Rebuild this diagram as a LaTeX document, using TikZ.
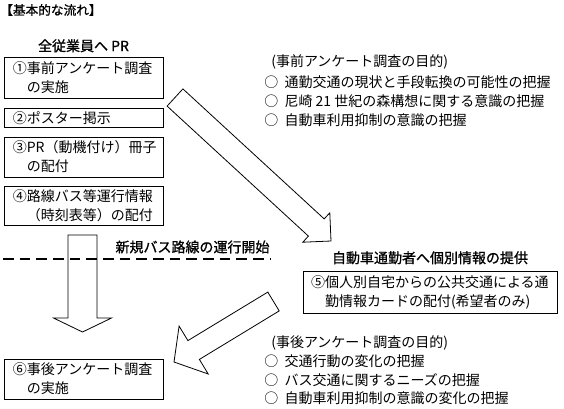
\documentclass[tikz,border=0pt]{standalone}
\usepackage{fontspec}
\setmainfont{Noto Sans CJK JP}
\newfontfamily\hdfont[FakeBold=1]{Noto Sans CJK JP}
\usetikzlibrary{positioning}

\begin{document}
\begin{tikzpicture}[x=0.75pt,y=-0.75pt,
    stepbox/.style={draw, line width=0.7pt, align=left, text width=106pt,
      inner xsep=6.6pt, inner ysep=0pt, minimum width=119.25pt,
      font=\fontsize{10.5}{14.25}\selectfont},
    bigarrow/.style={draw, line width=0.6pt, fill=white, line join=miter},
    hd/.style={inner sep=0pt, font=\hdfont\fontsize{10.5}{13}\selectfont},
    txt/.style={inner sep=0pt, anchor=west, font=\fontsize{10.5}{13}\selectfont}]
    \useasboundingbox (0,0) rectangle (564,408);

    \node[hd, anchor=west, font=\hdfont\fontsize{9.5}{12}\selectfont] (title) at (0,10) {【基本的な流れ】};

    \node[stepbox, minimum height=30.75pt] (b1) at (83.5,77.5) {①事前アンケート調査\\\hspace*{1em}の実施};
    \node[stepbox, minimum height=14.25pt] (b2) at (83.5,118) {②ポスター掲示};
    \node[stepbox, minimum height=30pt] (b3) at (83.5,157) {③PR（動機付け）冊子\\\hspace*{1em}の配付};
    \node[stepbox, minimum height=29.25pt] (b4) at (83.5,205.5) {④路線バス等運行情報\\\hspace*{1em}（時刻表等）の配付};
    \node[stepbox, minimum height=30pt] (b6) at (83.5,379) {⑥事後アンケート調査\\\hspace*{1em}の実施};
    \node[stepbox, text width=178.5pt, inner xsep=6pt, minimum width=190.5pt, minimum height=31.5pt] (b5) at (430,292)
      {⑤個人別自宅からの公共交通による通\\\hspace*{1em}勤情報カードの配付(希望者のみ)};

    \node[hd, above=3pt of b1] (allstaff) {全従業員へ PR};
    \node[hd] (start) at (192.5,247) {新規バス路線の運行開始};
    \node[hd, above=4.5pt of b5] (commuter) {自動車通勤者へ個別情報の提供};

    \node[txt] (pre) at (271,62) {(事前アンケート調査の目的)};
    \node[txt] (pre1) at (264,82.5) {○\hspace{.45em}通勤交通の現状と手段転換の可能性の把握};
    \node[txt] (pre2) at (264,101.5) {○\hspace{.45em}尼崎 21 世紀の森構想に関する意識の把握};
    \node[txt] (pre3) at (264,120.5) {○\hspace{.45em}自動車利用抑制の意識の把握};

    \node[txt] (post) at (271,343) {(事後アンケート調査の目的)};
    \node[txt] (post1) at (264,361.5) {○\hspace{.45em}交通行動の変化の把握};
    \node[txt] (post2) at (264,380) {○\hspace{.45em}バス交通に関するニーズの把握};
    \node[txt] (post3) at (264,398.5) {○\hspace{.45em}自動車利用抑制の意識の変化の把握};

    \draw[bigarrow] (68,235) -- (68,318) -- (53.5,318) -- (82.5,332) -- (111.5,318) -- (97,318) -- (97,235) -- cycle;
    \draw[bigarrow] (182.9,88.9) -- (324.2,218.9) -- (329.8,212.8) -- (331,241) -- (302.8,242.2) -- (308.4,236.1) -- (167.1,106.1) -- cycle;
    \draw[bigarrow] (267.8,292.1) -- (187.9,340.6) -- (179.1,326.1) -- (174,362) -- (208.2,374) -- (199.4,359.4) -- (279.2,310.9) -- cycle;

    \draw[line width=1.9pt, dash pattern=on 8pt off 4.5pt] (3,259) -- (270,259);
  \end{tikzpicture}
\end{document}
